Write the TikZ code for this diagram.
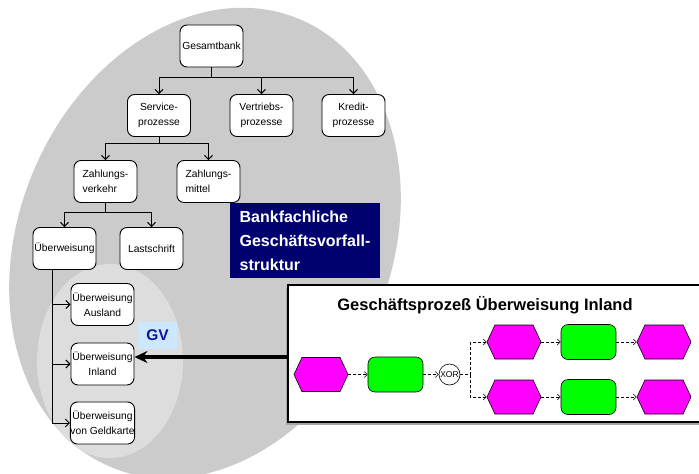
\documentclass[tikz,border=0pt]{standalone}
\usepackage{fontspec}
\setmainfont{Liberation Sans}
\usetikzlibrary{arrows.meta,shapes.symbols,calc}
\definecolor{ellouter}{RGB}{203,203,203}
\definecolor{ellinner}{RGB}{221,221,221}
\definecolor{navybox}{RGB}{0,0,110}
\definecolor{gvfill}{RGB}{204,232,255}
\definecolor{gvtext}{RGB}{20,20,150}
\definecolor{evcol}{RGB}{255,0,255}
\definecolor{fncol}{RGB}{0,255,0}
\begin{document}
\begin{tikzpicture}[x=1pt,y=-1pt,
  tnode/.style={draw, line width=0.9pt, rounded corners=7pt, fill=white,
    minimum width=63pt, minimum height=42pt, inner sep=0pt, align=center,
    font=\fontsize{10.3}{15}\selectfont},
  tlink/.style={line width=1pt, -{Straight Barb[length=4pt,width=8pt]}},
  evnode/.style={shape=signal, signal to=east and west, signal pointer angle=130,
    draw, line width=0.6pt, fill=evcol, minimum width=54pt, minimum height=34pt, inner sep=0pt},
  fnnode/.style={draw, line width=0.6pt, rounded corners=7pt, fill=fncol,
    minimum width=55pt, minimum height=35pt, inner sep=0pt},
  xornode/.style={circle, draw, line width=0.6pt, fill=white, minimum size=21pt, inner sep=0pt,
    font=\fontsize{8.5}{9}\selectfont},
  dflow/.style={line width=0.6pt, dash pattern=on 3pt off 2pt},
  dflowarrow/.style={dflow, -{Straight Barb[length=3pt,width=6pt]}},
  bigarrow/.style={line width=3.5pt, -{Stealth[length=13pt,width=12pt]}}
]
\useasboundingbox (0,0) rectangle (699,474);
\clip (0,0) rectangle (699,474);
\fill[white] (0,0) rectangle (699,474);

% background ellipses (major axis leaning from upper right to lower left)
\begin{scope}[shift={(205,243)},rotate=-23]
  \fill[ellouter] (0,0) ellipse [x radius=186pt, y radius=243pt];
\end{scope}
\fill[ellinner] (110,361) ellipse [x radius=73pt, y radius=97pt];

% hierarchy nodes
\node[tnode] (gesamt)   at (211.5,46)    {Gesamtbank};
\node[tnode] (service)  at (159,115.5)   {Service-\\prozesse};
\node[tnode] (vertrieb) at (261.5,115.5) {Vertriebs-\\prozesse};
\node[tnode] (kredit)   at (353.5,115.5) {Kredit-\\prozesse};
\node[tnode, align=left] (zv) at (105.5,181.5) {Zahlungs-\\verkehr};
\node[tnode, align=left] (zm) at (208.5,181.5) {Zahlungs-\\mittel};
\node[tnode] (ueb)  at (64.5,248.5)  {Überweisung};
\node[tnode] (last) at (151.5,248.5) {Lastschrift};
\node[tnode] (ausl) at (102.5,304.5) {Überweisung\\Ausland};
\node[tnode] (inl)  at (102.5,364)   {Überweisung\\Inland};
\node[tnode] (geld) at (102.5,423)   {Überweisung\\von Geldkarte};

% hierarchy connectors
\foreach \c in {service,vertrieb,kredit}
  \draw[tlink] (gesamt.south) -- ++(0,10) -| (\c.north);
\foreach \c in {zv,zm}
  \draw[tlink] (service.south) -- ++(0,7) -| (\c.north);
\foreach \c in {ueb,last}
  \draw[tlink] (zv.south) -- ++(0,10) -| (\c.north);
\coordinate (trunk) at ([xshift=-12.5pt]ueb.south);
\foreach \c in {ausl,inl,geld}
  \draw[tlink] (trunk) |- (\c.west);

% title box of the hierarchy
\node[fill=navybox, text=white, align=left, minimum width=150pt, minimum height=75pt,
  inner sep=0pt, font=\fontsize{16}{24}\bfseries\selectfont] (title) at (305,240.5)
  {Bankfachliche\\Geschäftsvorfall-\\struktur};

% GV label
\node[fill=gvfill, text=gvtext, minimum width=39pt, minimum height=27pt, inner sep=0pt,
  font=\fontsize{15.5}{16}\bfseries\selectfont] (gv) at (157.5,335.5) {GV};

% process box with shadow
\fill[gray!70] (286,288) rectangle (710,425);
\node[draw, line width=1.2pt, fill=white, minimum width=422pt, minimum height=137pt,
  inner sep=0pt] (proc) at (499,353.5) {};
\node[font=\fontsize{16.5}{18}\bfseries\selectfont] (ptitle) at (485,305)
  {Geschäftsprozeß Überweisung Inland};

% thick arrow to the business case
\coordinate (gvin) at ([yshift=7pt]inl.east);
\draw[bigarrow] (proc.west |- gvin) -- (gvin);

% process chain
\node[evnode] (e1) at (321,374.5) {};
\node[fnnode] (f1) at (395.5,374.5) {};
\node[xornode] (xor) at (449.5,374.5) {XOR};
\node[evnode] (e2) at (514,342) {};
\node[fnnode] (f2) at (588.5,342) {};
\node[evnode] (e3) at (664,342) {};
\node[evnode] (e4) at (514,397) {};
\node[fnnode] (f3) at (588.5,397) {};
\node[evnode] (e5) at (664,397) {};

\draw[dflowarrow] (e1.east) -- (f1.west);
\draw[dflowarrow] (f1.east) -- (xor.west);
\coordinate (br) at ([xshift=10pt]xor.east);
\draw[dflow] (xor.east) -- (br);
\draw[dflowarrow] (br) |- (e2.west);
\draw[dflowarrow] (br) |- (e4.west);
\draw[dflowarrow] (e2.east) -- (f2.west);
\draw[dflowarrow] (f2.east) -- (e3.west);
\draw[dflowarrow] (e4.east) -- (f3.west);
\draw[dflowarrow] (f3.east) -- (e5.west);
\end{tikzpicture}
\end{document}
